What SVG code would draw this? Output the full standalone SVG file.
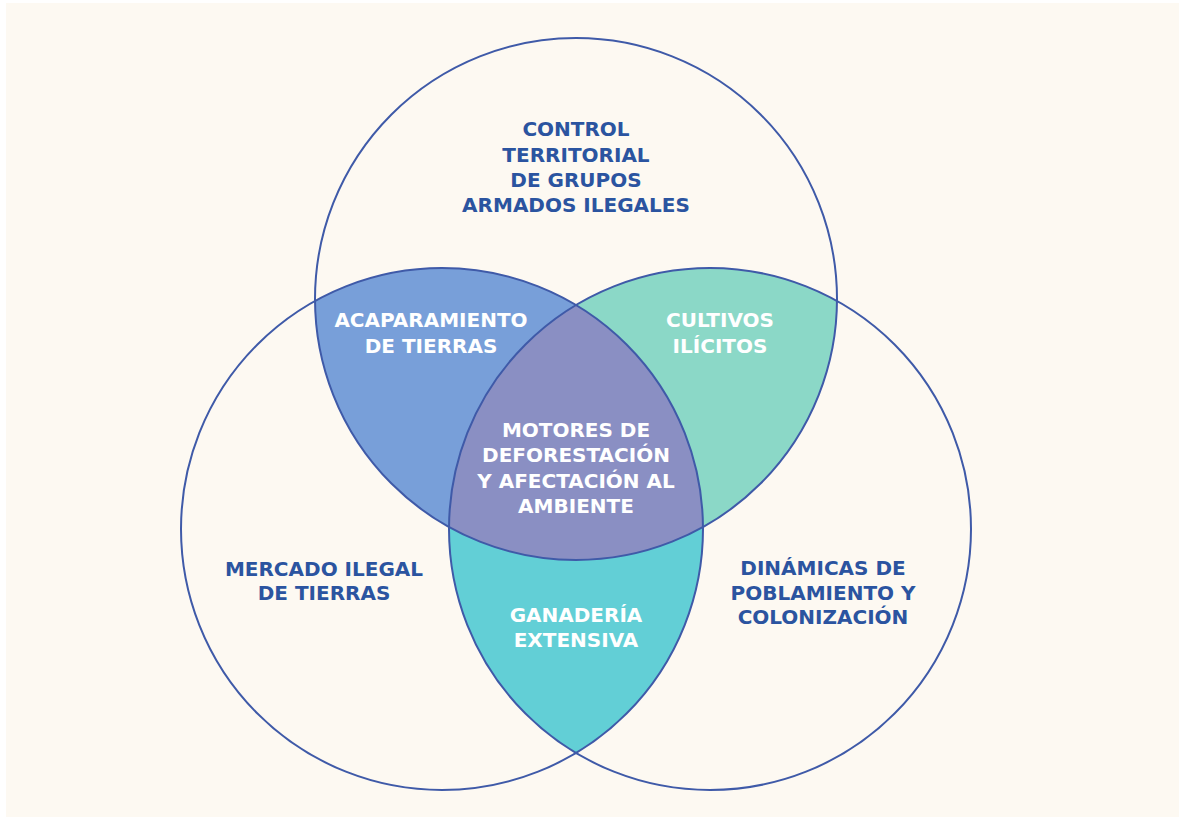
<svg xmlns="http://www.w3.org/2000/svg" width="1179" height="820" viewBox="0 0 1179 820">
  <style>
    .ring { fill: none; stroke: #3f5aa8; stroke-width: 2; }
    .lbl { font-family: "DejaVu Sans", "Liberation Sans", sans-serif; font-weight: bold; font-size: 20px; text-anchor: middle; }
    .outer { fill: #2b54a0; }
    .inner { fill: #ffffff; }
  </style>
  <defs>
    <clipPath id="clipTop"><circle cx="576" cy="299" r="261"/></clipPath>
    <clipPath id="clipLeft"><circle cx="442" cy="529" r="261"/></clipPath>
    <clipPath id="clipRight"><circle cx="710" cy="529" r="261"/></clipPath>
  </defs>

  <rect x="0" y="0" width="1179" height="820" fill="#ffffff"/>
  <rect x="6" y="3" width="1173" height="814" fill="#fdf9f2"/>

  <!-- overlap fills -->
  <g id="acaparamiento">
    <g clip-path="url(#clipTop)"><circle cx="442" cy="529" r="261" fill="#789fd9"/></g>
  </g>
  <g id="cultivos">
    <g clip-path="url(#clipTop)"><circle cx="710" cy="529" r="261" fill="#8bd8c7"/></g>
  </g>
  <g id="ganaderia">
    <g clip-path="url(#clipLeft)"><circle cx="710" cy="529" r="261" fill="#62cfd6"/></g>
  </g>
  <g id="motores">
    <g clip-path="url(#clipTop)"><g clip-path="url(#clipLeft)"><circle cx="710" cy="529" r="261" fill="#8a8fc3"/></g></g>
  </g>

  <!-- circle outlines -->
  <g id="control-territorial"><circle class="ring" cx="576" cy="299" r="261"/></g>
  <g id="mercado-ilegal"><circle class="ring" cx="442" cy="529" r="261"/></g>
  <g id="dinamicas"><circle class="ring" cx="710" cy="529" r="261"/></g>

  <!-- labels -->
  <g id="labels">
    <text class="lbl outer" x="576" y="136">CONTROL</text>
    <text class="lbl outer" x="576" y="162">TERRITORIAL</text>
    <text class="lbl outer" x="576" y="187">DE GRUPOS</text>
    <text class="lbl outer" x="576" y="212">ARMADOS ILEGALES</text>

    <text class="lbl inner" x="431" y="327">ACAPARAMIENTO</text>
    <text class="lbl inner" x="431" y="353">DE TIERRAS</text>

    <text class="lbl inner" x="720" y="327">CULTIVOS</text>
    <text class="lbl inner" x="720" y="353">ILÍCITOS</text>

    <text class="lbl inner" x="576" y="437">MOTORES DE</text>
    <text class="lbl inner" x="576" y="462">DEFORESTACIÓN</text>
    <text class="lbl inner" x="576" y="488">Y AFECTACIÓN AL</text>
    <text class="lbl inner" x="576" y="513">AMBIENTE</text>

    <text class="lbl outer" x="324" y="576">MERCADO ILEGAL</text>
    <text class="lbl outer" x="324" y="600">DE TIERRAS</text>

    <text class="lbl outer" x="823" y="575">DINÁMICAS DE</text>
    <text class="lbl outer" x="823" y="600">POBLAMIENTO Y</text>
    <text class="lbl outer" x="823" y="624">COLONIZACIÓN</text>

    <text class="lbl inner" x="576" y="622">GANADERÍA</text>
    <text class="lbl inner" x="576" y="647">EXTENSIVA</text>
  </g>
</svg>
